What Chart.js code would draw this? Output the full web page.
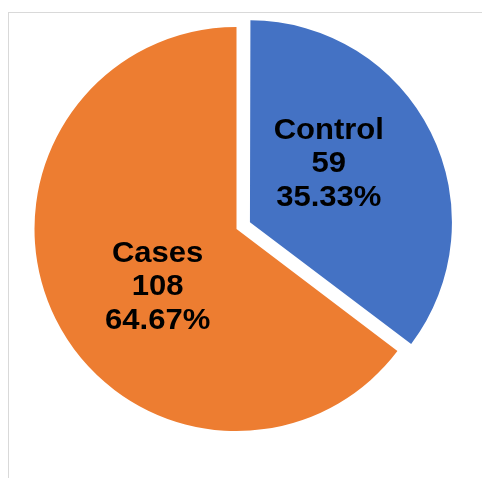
<!DOCTYPE html>
<html>
<head>
<meta charset="utf-8">
<script src="https://cdn.jsdelivr.net/npm/chart.js@4/dist/chart.umd.min.js"></script>
<style>
  html, body { margin: 0; padding: 0; background: #fff; }
  #wrap { position: relative; width: 482px; height: 478px; overflow: hidden; }
  #frame { position: absolute; left: 8px; top: 12px; width: 480px; height: 480px;
           border-top: 1px solid #d9d9d9; border-left: 1px solid #d9d9d9; }
  #pie { position: absolute; left: 0; top: 0; }
</style>
</head>
<body>
<div id="wrap">
  <div id="frame"></div>
  <canvas id="pie" width="482" height="478"></canvas>
</div>
<script>
// số liệu
const categories = ["Control", "Cases"];
const counts = [59, 108];
const sliceColors = ["#4472C4", "#ED7D31"];
// Chart.js v4 dịch lát ra offset/4 px -> 60 = 15px
const sliceOffsets = [60, 0];

const total = counts.reduce((a, b) => a + b, 0);

// giữ bán kính lát tách rời bằng lát còn lại (v4 phóng to lát theo offset)
const keepRadius = {
  id: "keepRadius",
  beforeDatasetsDraw(chart) {
    const meta = chart.getDatasetMeta(0);
    const base = meta.controller.outerRadius;
    meta.data.forEach((arc, i) => {
      const off = sliceOffsets[i] / 4;
      const fix = 1 - Math.sin(Math.min(Math.PI, arc.circumference));
      arc.outerRadius = base - off * fix;
    });
  }
};

// nhãn nằm trong lát bánh: tên, số lượng, phần trăm
const sliceLabels = {
  id: "sliceLabels",
  afterDatasetsDraw(chart) {
    const ctx = chart.ctx;
    const meta = chart.getDatasetMeta(0);
    const R = meta.controller.outerRadius;
    ctx.save();
    ctx.font = 'bold 29px "Liberation Sans", Arial, sans-serif';
    ctx.fillStyle = "#000";
    ctx.textAlign = "center";
    ctx.textBaseline = "middle";
    meta.data.forEach((arc, i) => {
      const p = arc.getProps(["x", "y", "startAngle", "endAngle"], true);
      const mid = (p.startAngle + p.endAngle) / 2;
      const off = sliceOffsets[i] / 4;
      const cx = p.x + Math.cos(mid) * off;
      const cy = p.y + Math.sin(mid) * off;
      const a = mid - 10 * Math.PI / 180;
      const r = R * 0.485;
      const lx = cx + Math.cos(a) * r;
      const ly = cy + Math.sin(a) * r;
      const pct = (counts[i] / total * 100).toFixed(2) + "%";
      const lines = [categories[i], String(counts[i]), pct];
      lines.forEach((t, k) => {
        ctx.save();
        ctx.translate(lx, ly + (k - 1) * 33.5);
        ctx.scale(1.07, 1);
        ctx.fillText(t, 0, 0);
        ctx.restore();
      });
    });
    ctx.restore();
  }
};

new Chart(document.getElementById("pie").getContext("2d"), {
  type: "pie",
  data: {
    labels: categories,
    datasets: [{
      data: counts,
      backgroundColor: sliceColors,
      offset: sliceOffsets,
      radius: 202,
      borderWidth: 0,
      hoverBorderWidth: 0,
      hoverOffset: 0
    }]
  },
  options: {
    responsive: false,
    animation: false,
    events: [],
    layout: { padding: { left: 27, right: 36, top: 19.5, bottom: 39.5 } },
    plugins: {
      legend: { display: false },
      tooltip: { enabled: false },
      title: { display: false }
    }
  },
  plugins: [keepRadius, sliceLabels]
});
</script>
</body>
</html>
